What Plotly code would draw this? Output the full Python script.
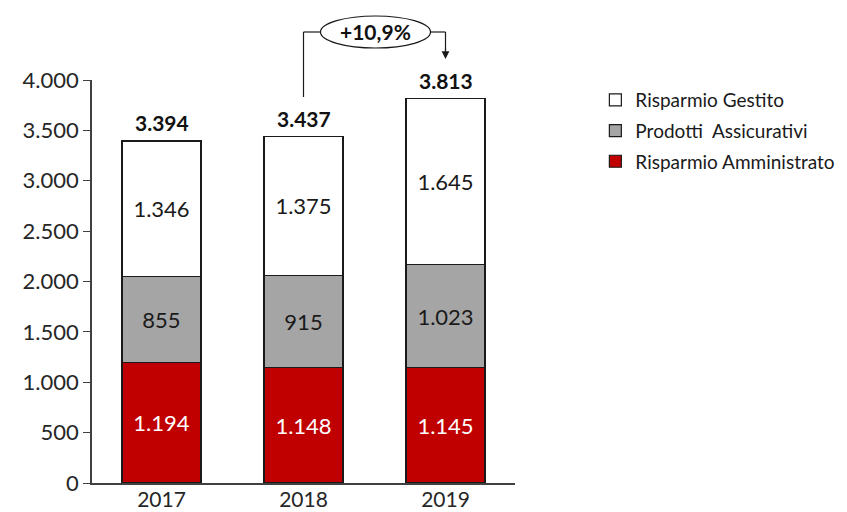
import plotly.graph_objects as go

years = ["2017", "2018", "2019"]
amministrato = [1194, 1148, 1145]
assicurativi = [855, 915, 1023]
gestito = [1346, 1375, 1645]
totals_label = ["3.394", "3.437", "3.813"]
growth_label = "+10,9%"
y_ticks = [0, 500, 1000, 1500, 2000, 2500, 3000, 3500, 4000]

def fmt(v):
    return f"{v:,}".replace(",", ".")

FONT = "Lato, 'Open Sans', sans-serif"
fig = go.Figure()
series = [
    ("Risparmio Amministrato", amministrato, "#C00000", "white", 3),
    ("Prodotti  Assicurativi", assicurativi, "#A5A5A5", "#1a1a1a", 2),
    ("Risparmio Gestito", gestito, "#FFFFFF", "#1a1a1a", 1),
]
for name, vals, col, tcol, rank in series:
    fig.add_trace(go.Bar(
        x=years, y=vals, name=name, legendgroup=name, legendrank=rank,
        marker=dict(color=col, line=dict(color="#1a1a1a", width=1.2)),
        text=[fmt(v) for v in vals], textposition="inside",
        insidetextanchor="middle", textangle=0,
        textfont=dict(size=22, color=tcol, family=FONT),
        width=0.557, hoverinfo="skip",
    ))

totals = [a + b + c for a, b, c in zip(amministrato, assicurativi, gestito)]
for i, (t, lab) in enumerate(zip(totals, totals_label)):
    fig.add_annotation(x=i, y=t, xref="x", yref="y", text=f"<b>{lab}</b>", showarrow=False,
                       yanchor="bottom", yshift=4,
                       font=dict(size=21, color="#111111", family=FONT))

xmin, xmax = -0.4894, 2.4894
def px(idx):
    return (idx - xmin) / (xmax - xmin)
H = 403.0
def py(pix):
    return (483 - pix) / H

x18 = px(1)
x19 = px(2)
line = dict(color="#1a1a1a", width=1.2)
# bracket
fig.add_shape(type="line", xref="paper", yref="paper", x0=x18, x1=x18, y0=py(97), y1=py(32), line=line)
e_left = x18 + 17 / 423
e_right = x18 + 127 / 423
fig.add_shape(type="line", xref="paper", yref="paper", x0=x18, x1=e_left, y0=py(32), y1=py(32), line=line)
fig.add_shape(type="line", xref="paper", yref="paper", x0=e_right, x1=x19, y0=py(32), y1=py(32), line=line)
fig.add_shape(type="line", xref="paper", yref="paper", x0=x19, x1=x19, y0=py(32), y1=py(50), line=line)
fig.add_shape(type="circle", xref="paper", yref="paper", x0=e_left, x1=e_right,
              y0=py(48), y1=py(16), line=line, fillcolor="white")
fig.add_annotation(xref="paper", yref="paper", x=(e_left + e_right) / 2, y=py(32),
                   xanchor="center", yanchor="middle",
                   text=f"<b>{growth_label}</b>", showarrow=False,
                   font=dict(size=21, color="#111111", family=FONT))
fig.add_annotation(xref="paper", yref="paper", x=x19, y=py(59), text="",
                   showarrow=True, ax=0, ay=-12, arrowhead=2, arrowsize=1.3,
                   arrowwidth=1.2, arrowcolor="#1a1a1a", standoff=0)

fig.update_layout(
    width=847, height=512, barmode="stack",
    margin=dict(l=92, r=332, t=80, b=29, autoexpand=False),
    plot_bgcolor="white", paper_bgcolor="white",
    separators=",.",
    font=dict(family=FONT, color="#404040"),
    showlegend=True,
    legend=dict(x=1.19, y=py(81), xanchor="left", yanchor="top",
                font=dict(size=19, color="#1a1a1a", family=FONT),
                traceorder="grouped", tracegroupgap=3,
                bgcolor="rgba(0,0,0,0)"),
    xaxis=dict(type="category", range=[xmin, xmax], showline=True, linecolor="#404040", linewidth=1.5,
               ticks="", tickfont=dict(size=21, color="#262626"), showgrid=False,
               zeroline=False, ticklabelstandoff=-3),
    yaxis=dict(range=[0, 4000], tickvals=y_ticks, tickformat=",d", showline=True,
               linecolor="#404040", linewidth=1.5, ticks="outside", ticklen=7,
               tickcolor="#404040", tickfont=dict(size=22, color="#262626"),
               showgrid=False, zeroline=False),
)
fig.write_html("out.html", config={"displayModeBar": False},
               post_script="document.body.style.margin='0';")
